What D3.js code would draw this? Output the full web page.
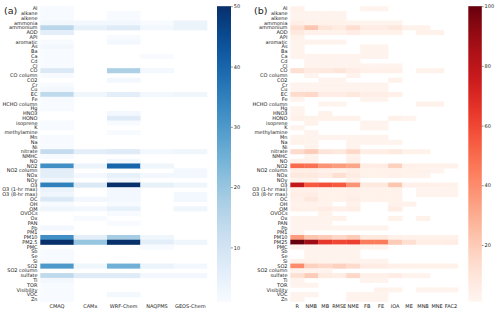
<!DOCTYPE html>
<html>
<head>
<meta charset="utf-8">
<script src="https://cdn.jsdelivr.net/npm/d3@7"></script>
<style>
  body { margin: 0; background: #fff; }
  text { font-family: "DejaVu Sans", sans-serif; fill: #222; }
</style>
</head>
<body>
<svg id="chart" width="500" height="313"></svg>
<script>
const species = ["Al", "alkane", "alkene", "ammonia", "ammonium", "AOD", "API", "aromatic", "As", "Ba",
  "Ca", "Cd", "Cl", "CO", "CO column", "CO2", "Cr", "Cu", "EC", "Fe", "HCHO column", "Hg", "HNO3", "HONO",
  "isoprene", "K", "methylamine", "Mn", "Na", "Ni", "nitrate", "NMHC", "NO", "NO2", "NO2 column", "NOx",
  "NOy", "O3", "O3 (1-hr max)", "O3 (8-hr max)", "OC", "OH", "OM", "OVOCs", "Ox", "PAN", "Pb", "PM1",
  "PM10", "PM2.5", "PMC", "Sb", "Se", "Si", "SO2", "SO2 column", "sulfate", "Ti", "TOR", "Visibility",
  "VOC", "Zn"];
const species_b = species.map((s) => (s === "PM2.5" ? "PM25" : s));

const models = ["CMAQ", "CAMx", "WRF-Chem", "NAQPMS", "GEOS-Chem"];
const metrics = ["R", "NMB", "MB", "RMSE", "NME", "FB", "FE", "IOA", "ME", "MNB", "MNE", "FAC2"];

const ticks_a = [10, 20, 30, 40, 50];
const ticks_b = [20, 40, 60, 80, 100];

const n = null;
// counts per species (rows) and model (columns)
const model_counts = [
  [1, n, n, n, n], [1, n, 1, n, n], [1, n, 1, n, n], [2, 2, 2, 1, 4], [15, 5, 7, 2, 4],
  [6, n, n, n, n], [n, n, 1, n, n], [1, n, 2, n, n], [2, n, n, n, n], [1, n, n, n, n],
  [1, n, n, 1, n], [1, n, n, n, n], [1, n, n, n, n], [8, n, 17, 2, n], [1, n, n, n, n],
  [n, n, 2, n, n], [1, n, n, n, n], [2, n, n, n, n], [14, 3, 6, 2, 3], [1, n, n, n, n],
  [1, n, n, n, n], [1, n, n, n, n], [n, n, 2, n, n], [n, n, 7, n, n], [1, n, 1, n, n],
  [1, n, n, n, n], [n, n, 1, n, n], [1, n, n, n, n], [1, n, n, n, n], [1, n, n, n, n],
  [13, 6, 7, 2, 3], [1, n, n, n, n], [n, n, 2, n, n], [32, 4, 40, 3, n], [6, n, n, n, 2],
  [6, 2, 5, 2, 2], [3, n, 2, n, n], [35, 8, 50, 5, 3], [4, n, 2, n, n], [3, n, 2, n, 2],
  [8, 2, 2, n, 2], [1, n, 1, n, n], [3, 2, 5, n, 3], [n, n, 1, n, n], [n, 1, n, n, n],
  [n, n, 1, n, n], [2, n, n, n, n], [n, n, n, n, n], [32, 6, 18, 3, n], [50, 20, 50, 6, 3],
  [n, n, n, 1, n], [1, n, n, n, n], [1, n, n, n, n], [1, n, n, n, n], [30, 3, 25, 4, 2],
  [n, n, n, n, n], [14, 7, 7, 2, 2], [2, n, n, n, n], [1, n, n, n, n], [1, n, n, n, n],
  [1, n, 2, n, n], [1, n, n, n, n]
];

// counts per species (rows) and metric (columns)
const metric_counts = [
  [3, n, n, n, n, 2, 2, n, n, n, n, n],
  [2, 2, 2, 2, n, n, n, n, n, n, n, n],
  [2, 2, 2, 2, n, n, n, n, n, n, n, n],
  [5, 3, 3, 3, 2, 2, 2, 2, n, n, n, n],
  [12, 22, 10, 7, 13, 6, 6, 9, 3, 3, n, n],
  [8, 4, 3, 3, 6, 3, 3, 3, n, 3, 3, n],
  [3, n, n, n, n, n, n, n, n, n, n, n],
  [2, 2, 2, 2, n, n, n, n, n, n, n, n],
  [2, n, n, n, n, 2, 2, n, n, n, n, n],
  [2, n, n, n, n, 2, 2, n, n, n, n, n],
  [2, 2, 2, 2, 2, 2, 2, n, n, n, n, n],
  [n, 2, 2, 2, 2, n, n, n, n, n, n, n],
  [n, 2, 2, 2, 2, 2, 2, 2, n, n, n, n],
  [12, 7, 8, 10, 6, 4, 4, 4, n, 3, 3, n],
  [n, 2, n, n, 2, n, n, n, n, n, n, n],
  [n, n, 2, 2, n, n, n, 3, n, n, n, n],
  [2, 2, 2, 2, 2, 2, 2, n, n, n, n, n],
  [2, 2, 2, 2, 2, 2, 2, n, n, n, n, n],
  [14, 15, 6, 6, 8, 5, 5, 4, n, n, n, n],
  [2, n, n, n, n, 2, 2, n, n, n, n, n],
  [n, n, 2, 2, n, n, n, n, n, 3, 3, n],
  [2, n, n, n, n, n, n, n, n, n, n, n],
  [2, n, 3, n, n, n, n, n, n, n, n, n],
  [4, 3, 3, 3, 3, n, n, 4, 2, n, n, n],
  [n, 3, n, n, n, 2, 2, n, n, n, n, n],
  [2, n, n, n, n, 2, 2, n, n, n, n, n],
  [n, 2, n, n, n, n, n, n, n, n, n, n],
  [2, 2, 2, 2, 2, 2, 2, n, n, n, n, n],
  [3, 2, n, n, 2, 2, 2, 2, n, n, n, n],
  [n, 2, n, n, 2, n, n, n, n, n, n, n],
  [14, 20, 10, 8, 15, 5, 5, 8, 3, 3, n, n],
  [n, 2, n, n, 3, n, n, n, n, n, n, n],
  [3, 3, n, n, 4, n, n, n, n, n, n, n],
  [50, 48, 38, 35, 32, 6, 6, 18, 4, 3, 3, 3],
  [5, 5, 4, 3, 5, 3, 3, 3, 3, 3, 2, n],
  [8, 8, 6, 12, 7, 3, 3, 4, 2, 2, n, n],
  [3, 3, n, n, 2, n, n, n, n, n, n, n],
  [78, 55, 58, 55, 38, 8, 8, 22, 4, 4, 4, 3],
  [4, 4, 3, 3, 4, 3, 3, 3, n, 2, 2, 2],
  [5, 6, 3, 3, 4, 3, 3, 3, n, 2, 2, 2],
  [4, 9, 3, 3, 5, 3, 3, 3, n, n, n, n],
  [3, 3, 2, n, 3, n, n, 3, 3, n, n, n],
  [4, 4, 6, 4, 5, n, n, 6, n, n, n, n],
  [n, n, 3, n, n, n, n, n, n, n, n, n],
  [2, 2, 2, 3, n, n, n, 3, n, 3, n, n],
  [2, 2, 2, n, n, n, n, n, n, n, n, n],
  [2, 2, 2, 2, 2, 2, 2, n, n, n, n, n],
  [2, n, n, n, n, n, n, n, n, n, n, n],
  [35, 22, 20, 15, 20, 8, 8, 4, 3, 3, 3, 3],
  [100, 88, 65, 60, 62, 45, 45, 20, 12, 5, 5, 6],
  [2, 2, 2, 2, 2, 2, 2, n, n, n, n, n],
  [n, 2, 2, 2, 2, n, n, n, n, n, n, n],
  [n, 2, 2, 2, 2, n, n, n, n, n, n, n],
  [3, 3, 2, 2, 2, 2, 2, n, n, n, n, n],
  [40, 18, 15, 18, 14, 6, 6, 4, 3, 3, 3, 3],
  [2, 2, 2, n, n, n, n, n, n, n, n, n],
  [12, 20, 7, 5, 15, 4, 4, 6, 2, 2, n, n],
  [2, n, n, n, n, 2, 2, n, n, n, n, n],
  [2, 2, n, n, n, n, n, n, n, n, n, n],
  [n, n, n, n, n, n, 3, 2, n, 2, 2, 2],
  [2, 2, n, n, 2, 2, 2, n, n, n, n, n],
  [2, n, n, n, 2, 2, 2, n, n, n, n, n]
];

const top_y = 6.2;
const bottom_y = 301.7;
const font_size = 5;

const svg = d3.select("#chart");

function draw_panel(opts) {
  const g = svg.append("g");
  const x = d3.scaleBand().domain(opts.columns).range([opts.x0, opts.x1]);
  const y = d3.scaleBand().domain(d3.range(opts.rows.length)).range([top_y, bottom_y]);
  const color = d3.scaleSequential(opts.interp).domain([1, opts.vmax]).clamp(true);

  const cells = [];
  opts.values.forEach((row, i) =>
    row.forEach((v, j) => {
      if (v !== null) cells.push({ i, col: opts.columns[j], v });
    })
  );

  g.append("g")
    .selectAll("rect")
    .data(cells)
    .join("rect")
    .attr("x", (d) => x(d.col))
    .attr("y", (d) => y(d.i))
    .attr("width", x.bandwidth() + 0.3)
    .attr("height", y.bandwidth() + 0.3)
    .attr("fill", (d) => color(d.v));

  // row labels
  g.append("g")
    .selectAll("text")
    .data(opts.rows)
    .join("text")
    .attr("x", opts.x0 - 2.8)
    .attr("y", (d, i) => y(i) + y.bandwidth() / 2)
    .attr("dy", "0.35em")
    .attr("text-anchor", "end")
    .attr("font-size", font_size)
    .text((d) => d);

  // column labels
  g.append("g")
    .selectAll("text")
    .data(opts.columns)
    .join("text")
    .attr("x", (d) => x(d) + x.bandwidth() / 2)
    .attr("y", 307.6)
    .attr("text-anchor", "middle")
    .attr("font-size", font_size)
    .text((d) => d);

  // panel tag
  g.append("text")
    .attr("x", opts.tag_x)
    .attr("y", 13.5)
    .attr("font-size", 9.5)
    .text(opts.tag);

  // colorbar
  const grad_id = "grad-" + opts.tag.replace(/\W/g, "");
  const grad = svg
    .append("defs")
    .append("linearGradient")
    .attr("id", grad_id)
    .attr("x1", 0)
    .attr("y1", 1)
    .attr("x2", 0)
    .attr("y2", 0);
  d3.range(0, 1.0001, 0.05).forEach((t) => {
    grad
      .append("stop")
      .attr("offset", t)
      .attr("stop-color", opts.interp(t));
  });

  g.append("rect")
    .attr("x", opts.cb_x)
    .attr("y", top_y)
    .attr("width", opts.cb_w)
    .attr("height", bottom_y - top_y)
    .attr("fill", `url(#${grad_id})`);

  const cb_scale = d3.scaleLinear().domain([1, opts.vmax]).range([bottom_y, top_y]);
  const axis = g
    .append("g")
    .attr("transform", `translate(${opts.cb_x + opts.cb_w},0)`)
    .call(d3.axisRight(cb_scale).tickValues(opts.ticks).tickSize(1.8).tickPadding(1));
  axis.select(".domain").remove();
  axis.selectAll(".tick line").attr("stroke", "#222").attr("stroke-width", 0.5);
  axis.selectAll(".tick text").attr("font-size", font_size).attr("fill", "#222")
    .attr("font-family", "DejaVu Sans, sans-serif");
}

draw_panel({
  tag: "(a)",
  tag_x: 4,
  rows: species,
  columns: models,
  values: model_counts,
  x0: 40.3,
  x1: 207,
  vmax: 50,
  interp: d3.interpolateBlues,
  cb_x: 217,
  cb_w: 14,
  ticks: ticks_a,
});

draw_panel({
  tag: "(b)",
  tag_x: 254,
  rows: species_b,
  columns: metrics,
  values: metric_counts,
  x0: 290.3,
  x1: 458,
  vmax: 100,
  interp: d3.interpolateReds,
  cb_x: 468.3,
  cb_w: 13.5,
  ticks: ticks_b,
});
</script>
</body>
</html>
